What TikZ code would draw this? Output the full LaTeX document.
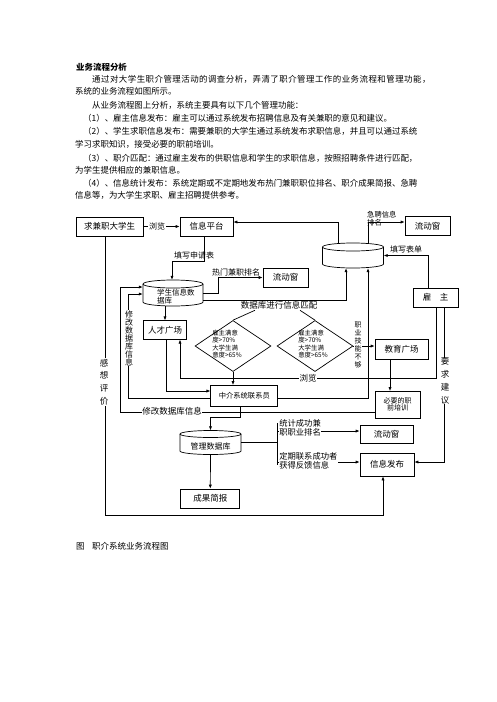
\documentclass[tikz,border=0pt]{standalone}
\usepackage{fontspec}
\setmainfont{Noto Sans CJK SC}
\usetikzlibrary{arrows.meta,shapes.geometric}
\newcommand\myfs[1]{\fontsize{#1}{#1}\selectfont}
\newcommand\mycyl[5]{%
  \draw[ln] (#1-#2,#3) -- (#1-#2,#4) arc[start angle=180,end angle=360,x radius=#2pt,y radius=#5pt] -- (#1+#2,#3);
  \draw[ln] (#1,#3) ellipse[x radius=#2pt,y radius=#5pt];}
\begin{document}
\begin{tikzpicture}[x=1pt,y=-1pt,
  ln/.style={line width=0.7pt},
  arr/.style={ln,-{Latex[length=4pt,width=3.2pt]}},
  bx/.style={draw,line width=0.7pt,inner sep=0pt,font=\myfs{8.5}},
  lbl/.style={inner sep=0.6pt,font=\myfs{8}},
  onl/.style={lbl,fill=white},
  para/.style={anchor=west,inner sep=0pt,font=\myfs{8.45}},
  diam/.style={draw,line width=0.7pt,shape=diamond,inner sep=0pt,minimum width=76pt,minimum height=51pt},
  dtext/.style={align=left,inner sep=0pt,font=\fontsize{6.4}{7.3}\selectfont},
  vtext/.style={align=center,fill=white,inner sep=0.6pt}
]
\useasboundingbox (0,0) rectangle (496,702);

% ---------- text ----------
\node[para] (t0) at (76,67) {\bfseries 业务流程分析};
\node[para] (t1) at (92,79) {\addfontfeatures{LetterSpace=5.5}通过对大学生职介管理活动的调查分析，弄清了职介管理工作的业务流程和管理功能，};
\node[para] (t2) at (75,91) {系统的业务流程如图所示。};
\node[para] (t3) at (92,105) {从业务流程图上分析，系统主要具有以下几个管理功能：};
\node[para] (t4) at (83,118) {（1）、雇主信息发布：雇主可以通过系统发布招聘信息及有关兼职的意见和建议。};
\node[para] (t5) at (83,131) {（2）、学生求职信息发布：需要兼职的大学生通过系统发布求职信息，并且可以通过系统};
\node[para] (t6) at (75,144) {学习求职知识，接受必要的职前培训。};
\node[para] (t7) at (83,158) {（3）、职介匹配：通过雇主发布的供职信息和学生的求职信息，按照招聘条件进行匹配，};
\node[para] (t8) at (75,170) {为学生提供相应的兼职信息。};
\node[para] (t9) at (83,183) {（4）、信息统计发布：系统定期或不定期地发布热门兼职职位排名、职介成果简报、急聘};
\node[para] (t10) at (75,195) {信息等，为大学生求职、雇主招聘提供参考。};

% ---------- boxes ----------
\node[bx,minimum width=67pt,minimum height=19pt] (stu) at (109.5,226.5) {求兼职大学生};
\node[bx,minimum width=53pt,minimum height=19pt] (plat) at (206.5,226.5) {信息平台};
\node[bx,minimum width=45pt,minimum height=19pt] (lw1) at (427.5,226) {流动窗};
\node[bx,minimum width=45pt,minimum height=19pt] (lw2) at (285.5,277.5) {流动窗};
\node[bx,minimum width=45pt,minimum height=19pt] (gz) at (435.5,297.5) {雇　主};
\node[bx,minimum width=43pt,minimum height=18.5pt] (rc) at (165,330) {人才广场};
\node[bx,minimum width=53pt,minimum height=20pt] (jy) at (401.5,349) {教育广场};
\node[bx,minimum width=67pt,minimum height=20.5pt,font=\myfs{7.3}] (zj) at (244.3,395.7) {中介系统联系员};
\node[bx,minimum width=45.5pt,minimum height=26.5pt,align=center,font=\myfs{7}] (by) at (397.7,404.7) {必要的职\\前培训};
\node[bx,minimum width=53pt,minimum height=18pt] (lw3) at (386.5,434) {流动窗};
\node[bx,minimum width=54pt,minimum height=23pt] (xf) at (387,464.5) {信息发布};
\node[bx,minimum width=59pt,minimum height=19pt] (cg) at (210.3,498.5) {成果简报};

% ---------- cylinders ----------
\mycyl{353}{30.5}{247}{264}{4}
\node[minimum width=61pt,minimum height=25pt,inner sep=0pt] (bigdb) at (353,255.5) {};
\mycyl{173}{30}{284}{302}{4}
\node[minimum width=60pt,minimum height=26pt,inner sep=0pt] (studb) at (173,293) {};
\node[anchor=west,align=left,inner sep=0pt,font=\myfs{7.5}] (studbt) at (157,296.5) {学生信息数\\据库};
\mycyl{210.5}{30.5}{434}{451}{3.5}
\node[minimum width=61pt,minimum height=24pt,inner sep=0pt] (mgmtdb) at (210.5,442.5) {};
\node[inner sep=0pt,font=\myfs{8}] (mgmtdbt) at (210.5,446) {管理数据库};

% ---------- diamonds ----------
\node[diam] (d1) at (233,346) {};
\node[diam] (d2) at (315,346) {};
\node[dtext] (d1t) at (227,344) {雇主满意\\度>70\%\\大学生满\\意度>65\%};
\node[dtext] (d2t) at (313,344) {雇主满意\\度>70\%\\大学生满\\意度>65\%};

% ---------- coordinates ----------
\coordinate (mL) at (120,412);
\coordinate (mL2) at (128,398);
\coordinate (mB) at (180,378);
\coordinate (mBot) at (383,515);
\coordinate (b1) at (277,431);
\coordinate (b2) at (277,462);
\coordinate (br) at (277,442.5);

% ---------- connectors ----------
\draw[arr] (stu) -- (plat);
\node[onl] (l1) at (157,226.5) {浏览};

\draw[arr] ([xshift=-15pt]bigdb.north) |- ([yshift=4.5pt]plat.east);

\draw[arr] ([xshift=-2.5pt]plat.south) -- ++(0,25) -| ([xshift=-1pt]studb.north);
\node[lbl,anchor=south] (l2) at (194,259.5) {填写申请表};

\draw[arr] (studb.east) -- ++(15,0) |- (lw2.west);
\node[lbl,anchor=south] (l3) at (236,276.5) {热门兼职排名};

\draw[arr] ([yshift=-7pt]studb.east) -| ([xshift=-7pt]bigdb.south);
\node[lbl,font=\myfs{8.5}] (l4) at (279,305.5) {数据库进行信息匹配};
\draw[ln] ([xshift=-24pt]l4.south) -- (d1.north);
\draw[ln] ([xshift=21pt]l4.south) -- (d2.north);

\draw[arr] (rc.north |- studb.south) -- (rc.north);
\draw[arr] ([xshift=1pt]rc.south) |- ([yshift=4.7pt]zj.west);

\draw[arr] ([yshift=-7.3pt]by.west) -- (mL) |- ([yshift=6pt]studb.west);
\node[onl,font=\myfs{8.5}] (l5) at (172,411.5) {修改数据库信息};

\draw[arr] ([yshift=-2.3pt]zj.west) -- (mL2) |- ([yshift=-1pt]studb.west);
\node[vtext,font=\fontsize{8}{8}\selectfont] (l6) at (129,338) {修\\改\\数\\据\\库\\信\\息};

\draw[arr] (d1.south) -- (d1.south |- zj.north);

\draw[arr] ([xshift=0.5pt]gz.south) |- (mB) -- (mB |- rc.south);
\node[onl,font=\myfs{8.5}] (l7) at (308,378) {浏览};

\draw[arr] ([yshift=-2.3pt]zj.east) -| ([xshift=15pt]bigdb.south);

\draw[arr] ([xshift=15pt]bigdb.north) |- ([yshift=4pt]lw1.west);
\node[anchor=west,align=left,inner sep=0pt,font=\fontsize{7.3}{7.5}\selectfont] (l8) at (367,218.5) {急聘信息\\排名};

\draw[arr] ([xshift=-7.5pt]gz.north) |- (bigdb.east);
\node[lbl,anchor=south] (l9) at (406,254) {填写表单};

\draw[arr] (d2.east) -- (d2.east -| jy.west);
\node[vtext,font=\fontsize{7}{8}\selectfont] (l10) at (358,345) {职\\业\\技\\能\\不\\够};

\draw[arr] ([xshift=-11.5pt]jy.south) -- ([xshift=-11.5pt]jy.south |- by.north);

\draw[arr] ([xshift=8.5pt]gz.south) |- ([yshift=2.5pt]xf.east);
\node[vtext,font=\fontsize{8.5}{12.7}\selectfont] (l11) at (445,381) {要\\求\\建\\议};

\draw[arr] ([xshift=-4pt]stu.south) |- (mBot) -- (mBot |- xf.south);
\node[vtext,font=\fontsize{8.5}{12.7}\selectfont] (l12) at (104,382) {感\\想\\评\\价};

\draw[arr] ([xshift=-4pt]zj.south) -- ++(0,11) -| (mgmtdb.north);
\draw[arr] (mgmtdb.south) -- (cg.north);

\draw[ln] (mgmtdb.east) -- (br);
\draw[ln] ([yshift=8pt]b1) -- ([yshift=-3pt]b2);
\draw[arr] (b1) -- (b1 -| lw3.west);
\draw[arr] (b2) -- (b2 -| xf.west);
\node[onl,anchor=west,align=left,font=\fontsize{8.3}{9.5}\selectfont] (l13) at (278.5,428) {统计成功兼\\职职业排名};
\node[onl,anchor=west,align=left,font=\fontsize{8.3}{8.5}\selectfont] (l14) at (278.5,461) {定期联系成功者\\获得反馈信息};

% ---------- caption ----------
\node[para,font=\myfs{8.5}] (cap1) at (76,546) {图};
\node[para,font=\myfs{8.5}] (cap2) at (92,546) {职介系统业务流程图};
\end{tikzpicture}
\end{document}
